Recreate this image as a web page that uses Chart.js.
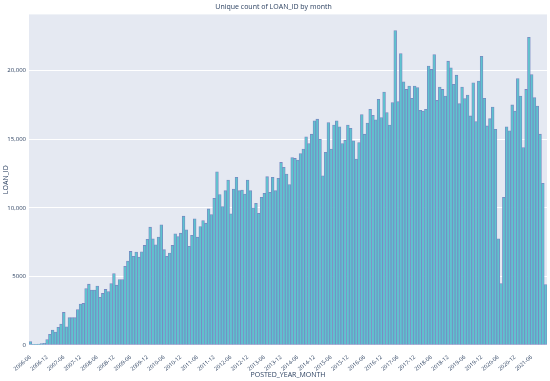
<!DOCTYPE html>
<html>
<head>
<meta charset="utf-8">
<script src="https://cdn.jsdelivr.net/npm/chart.js@4"></script>
<style>
  html, body { margin:0; padding:0; background:#fff; }
  #wrap { width:550px; height:381px; }
</style>
</head>
<body>
<div id="wrap"><canvas id="chart-loans" width="550" height="381"></canvas></div>
<script>
// ─── DATOS (conteo único de LOAN_ID por mes) ────────────────────────────────
const START_YEAR = 2006;
const START_MONTH = 6;

const counts2006 = [250, 50, 50, 60, 100, 120, 400];
const counts2007 = [775, 1090, 945, 1290, 1530, 2375, 1330, 1990, 1990, 1990, 2590, 2980];
const counts2008 = [3030, 4120, 4435, 4000, 4000, 4290, 3470, 3760, 4050, 3900, 4480, 5210];
const counts2009 = [4360, 4775, 4775, 5740, 6120, 6820, 6460, 6780, 6410, 6800, 7260, 7700];
const counts2010 = [8590, 7740, 7300, 7870, 8760, 6950, 6460, 6700, 7260, 8110, 7910, 8150];
const counts2011 = [9390, 8400, 7190, 7990, 9200, 7860, 8640, 9075, 8880, 9920, 9510, 10700];
const counts2012 = [12630, 10960, 10090, 11250, 12030, 9560, 11370, 12220, 11250, 11300, 11010, 12030];
const counts2013 = [11250, 10000, 10330, 9600, 10770, 11060, 12270, 11130, 12220, 11250, 12150, 13310];
const counts2014 = [12950, 12460, 11690, 13670, 13600, 13480, 13960, 14280, 15170, 14690, 15370, 16340];
const counts2015 = [16460, 15000, 12340, 14040, 16210, 14280, 16040, 16340, 15900, 14690, 14930, 16040];
const counts2016 = [15800, 14880, 13550, 14760, 16800, 15370, 16180, 17180, 16750, 16410, 17910, 16580];
const counts2017 = [18440, 16940, 16040, 17670, 22920, 17740, 21250, 19190, 18630, 18880, 17980, 18880];
const counts2018 = [18760, 17110, 17060, 17180, 20330, 20090, 21180, 17840, 18800, 18630, 18150, 20690];
const counts2019 = [20210, 19000, 19670, 17590, 18800, 17960, 18220, 16700, 19120, 16290, 19240, 21050];
const counts2020 = [17980, 15970, 16500, 17350, 15730, 7740, 4480, 10770, 15900, 15610, 17500, 17060];
const counts2021 = [19430, 18150, 14400, 18630, 22430, 19720, 18030, 17420, 15370, 11790, 4400];

const yTicks = [0, 5000, 10000, 15000, 20000];
const yTickLabels = ['0', '5000', '10,000', '15,000', '20,000'];

const counts = [].concat(counts2006, counts2007, counts2008, counts2009, counts2010, counts2011,
  counts2012, counts2013, counts2014, counts2015, counts2016, counts2017, counts2018,
  counts2019, counts2020, counts2021);

// etiquetas YYYY-MM
const meses = counts.map((_, i) => {
  const m = START_MONTH - 1 + i;
  const y = START_YEAR + Math.floor(m / 12);
  return y + '-' + String(m % 12 + 1).padStart(2, '0');
});

// fondo del área del gráfico (estilo plotly)
const plotBg = {
  id: 'plotBg',
  beforeDraw(chart) {
    const { ctx, chartArea: a } = chart;
    ctx.save();
    ctx.fillStyle = '#e5e9f2';
    ctx.fillRect(a.left, a.top, a.right - a.left, a.bottom - a.top);
    ctx.restore();
  }
};

const FONT = "'Open Sans', 'DejaVu Sans', sans-serif";

new Chart(document.getElementById('chart-loans').getContext('2d'), {
  type: 'bar',
  data: {
    labels: meses,
    datasets: [{
      label: 'LOAN_ID',
      data: counts,
      backgroundColor: '#5ec3cf',
      borderColor: '#7888c2',
      borderWidth: 0.8,
      borderSkipped: false,
      barPercentage: 1,
      categoryPercentage: 1
    }]
  },
  options: {
    responsive: false,
    animation: false,
    layout: { padding: { left: 0, right: 3, top: 0, bottom: 0 } },
    plugins: {
      legend: { display: false },
      tooltip: { enabled: false },
      title: {
        display: true,
        text: 'Unique count of LOAN_ID by month',
        color: '#2a3f5f',
        font: { family: FONT, size: 7, weight: 'normal' },
        padding: { top: 3, bottom: 3 }
      }
    },
    scales: {
      x: {
        grid: { display: false },
        border: { display: false },
        ticks: {
          autoSkip: false,
          minRotation: 40,
          maxRotation: 40,
          padding: 1,
          color: '#2a3f5f',
          font: { family: FONT, size: 5.5 },
          callback: function(v, i) {
            const l = meses[i];
            return (l.endsWith('-06') || l.endsWith('-12')) ? l : null;
          }
        },
        title: {
          display: true,
          text: 'POSTED_YEAR_MONTH',
          color: '#2a3f5f',
          font: { family: FONT, size: 7 },
          padding: { top: 0, bottom: 2 }
        },
        afterFit: s => { s.height = 36; }
      },
      y: {
        min: 0,
        max: 24100,
        grid: { color: '#ffffff', lineWidth: 1, drawTicks: false },
        border: { display: false },
        afterBuildTicks: s => { s.ticks = yTicks.map(v => ({ value: v })); },
        ticks: {
          color: '#2a3f5f',
          padding: 3,
          font: { family: FONT, size: 6 },
          callback: v => yTickLabels[yTicks.indexOf(v)]
        },
        title: {
          display: true,
          text: 'LOAN_ID',
          color: '#2a3f5f',
          font: { family: FONT, size: 7 },
          padding: { top: 2, bottom: 2 }
        },
        afterFit: s => { s.width = 29; }
      }
    }
  },
  plugins: [plotBg]
});
</script>
</body>
</html>
